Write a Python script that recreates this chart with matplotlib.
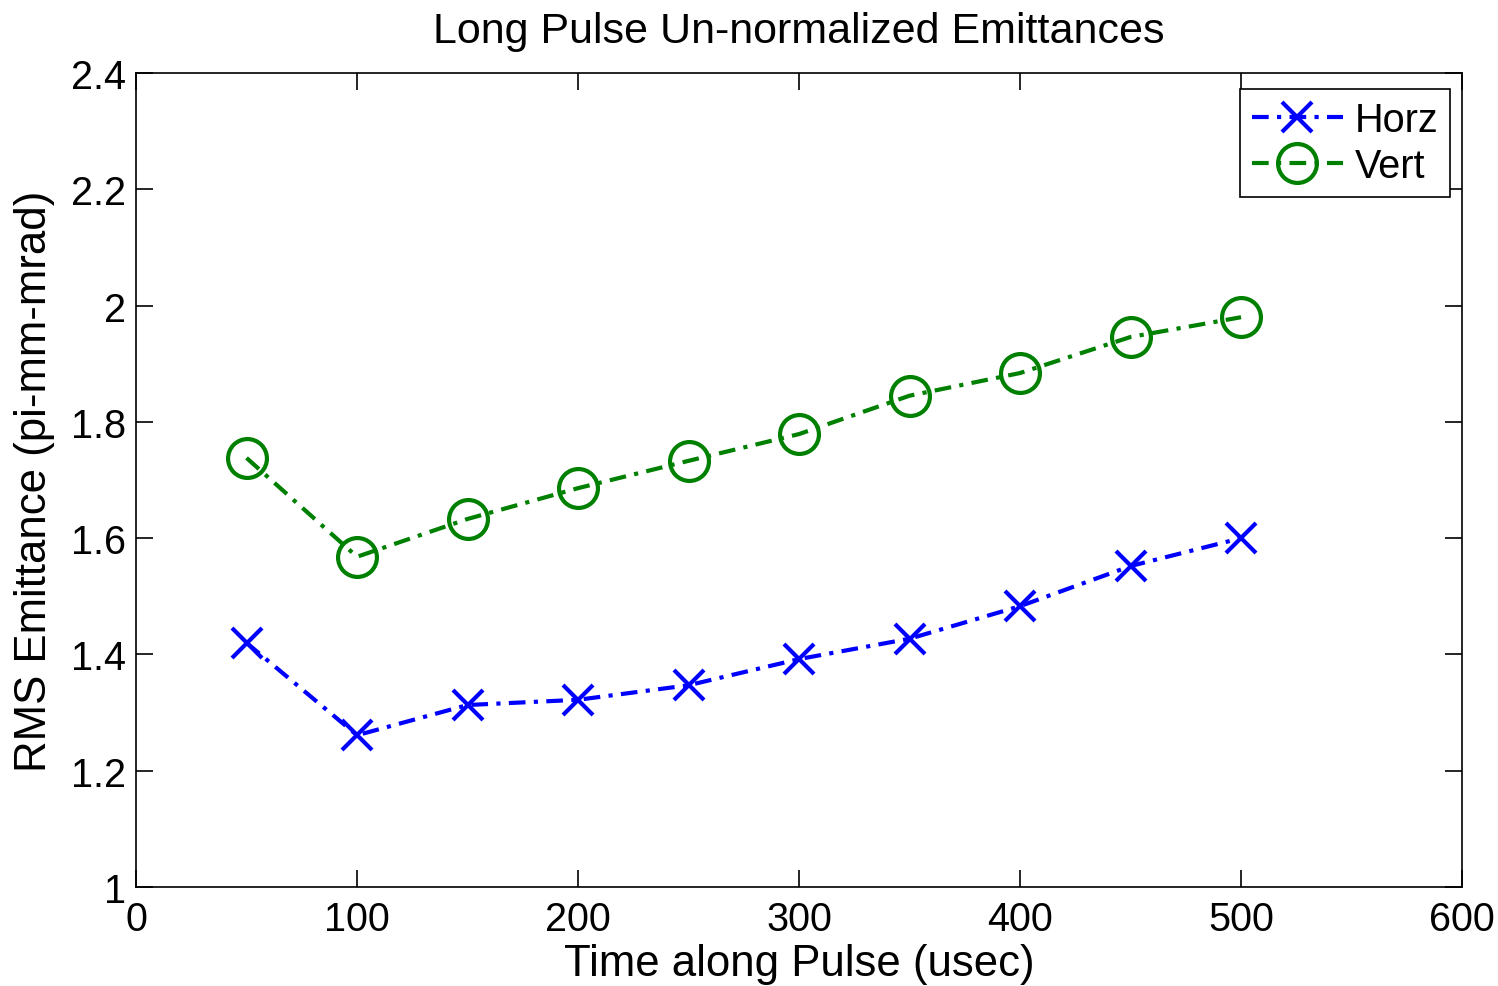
import matplotlib
matplotlib.use("Agg")
import matplotlib.pyplot as plt

plt.rcParams['font.family'] = ['Liberation Sans', 'DejaVu Sans']

time_us = [50, 100, 150, 200, 250, 300, 350, 400, 450, 500]
horz = [1.420, 1.261, 1.313, 1.322, 1.347, 1.392, 1.427, 1.483, 1.552, 1.600]
vert = [1.738, 1.568, 1.633, 1.686, 1.733, 1.779, 1.845, 1.884, 1.946, 1.980]

fig = plt.figure(figsize=(14.98, 9.87), dpi=100)
ax = fig.add_axes([0.0908, 0.1003, 0.8852, 0.8247])

dash = (0, (4, 2, 1, 2))
ax.plot(time_us, horz, color='#0000ff', linestyle=dash, linewidth=3,
        marker='x', markersize=22, markeredgewidth=3, label='Horz')
ax.plot(time_us, vert, color='#008000', linestyle=dash, linewidth=3,
        marker='o', markersize=28, markeredgewidth=3, markerfacecolor='none',
        label='Vert')

ax.set_xlim(0, 600)
ax.set_ylim(1, 2.4)
ax.set_xticks([0, 100, 200, 300, 400, 500, 600])
ax.set_yticks([1, 1.2, 1.4, 1.6, 1.8, 2, 2.2, 2.4])
ax.set_yticklabels(['1', '1.2', '1.4', '1.6', '1.8', '2', '2.2', '2.4'])

ax.tick_params(direction='in', top=True, right=True, length=12, width=1.2,
               labelsize=28.5, pad=9)
ax.tick_params(axis='y', pad=7)
for s in ax.spines.values():
    s.set_linewidth(1.2)

ax.set_title('Long Pulse Un-normalized Emittances', fontsize=31, pad=22)
ax.set_xlabel('Time along Pulse (usec)', fontsize=31.5, labelpad=4)
ax.set_ylabel('RMS Emittance (pi-mm-mrad)', fontsize=31.5, labelpad=12)

leg = ax.legend(loc='upper right', fontsize=28.5, fancybox=False, framealpha=1,
                edgecolor='black', handlelength=2.3, handletextpad=0.3,
                borderpad=0.3, labelspacing=0.2, borderaxespad=0,
                bbox_to_anchor=(0.991, 0.980))
leg.get_frame().set_linewidth(1.2)

fig.savefig('out.png', dpi=100)
